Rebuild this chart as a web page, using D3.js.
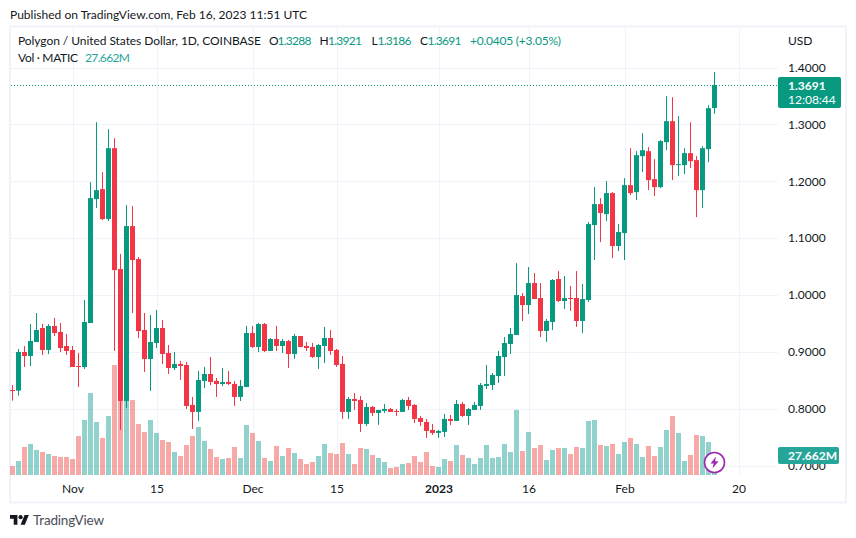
<!DOCTYPE html>
<html>
<head>
<meta charset="utf-8">
<script src="https://cdn.jsdelivr.net/npm/d3@7/dist/d3.min.js"></script>
<style>
    html, body { margin: 0; padding: 0; background: #fff; }
    svg { display: block; }
    text { font-family: "Lato", "Open Sans", sans-serif; fill: #131722; }
</style>
</head>
<body>
<div id="chart-area"></div>
<script>
const WIDTH = 856
const HEIGHT = 538
const PANE = { LEFT: 11, RIGHT: 778, TOP: 27, BOTTOM: 475 }
const UP = "#089981", DOWN = "#f23645"
const VOL_UP = "#26a69a", VOL_DOWN = "#ef5350"

// MATIC/USD daily: open, high, low, close, volume (millions), first day is Oct 22 2022
const rows = [
    [.8328,.8415,.8141,.8317,12.9],[.8317,.9049,.8229,.8996,20.1],[.8996,.9102,.8733,.8926,40.2],[.8926,.9488,.8750,.9190,44.5],
    [.9172,.9682,.9172,.9383,35.9],[.9418,.9488,.8944,.9032,33.0],[.9032,.9488,.8961,.9453,30.1],[.9453,.9594,.9278,.9330,27.2],
    [.9348,.9506,.8996,.9067,25.8],[.9102,.9313,.8944,.9014,25.8],[.9032,.9102,.8733,.8733,22.9],[.8750,.8979,.8381,.8739,55.9],
    [.8733,.9910,.8698,.9524,78.9],[.9506,1.1984,.9506,1.1703,117.6],[1.1685,1.3038,1.1527,1.1843,76.0],[1.1861,1.2160,1.1316,1.1334,53.1],
    [1.1334,1.2915,1.1299,1.2581,84.6],[1.2581,1.2757,.9014,1.0437,157.7],[1.0455,1.0719,.7626,.8135,130.0],[.8135,1.1580,.8012,1.1211,110.0],
    [1.1211,1.1562,.9682,1.0613,107.6],[1.0631,1.0666,.9242,.9365,73.1],[.9383,.9682,.8645,.8873,61.7],[.8873,.9647,.8311,.9172,78.9],
    [.9155,.9734,.9067,.9418,60.2],[.9418,.9559,.8786,.8961,50.2],[.8979,.9119,.8610,.8715,47.3],[.8715,.8996,.8680,.8786,33.0],
    [.8786,.8838,.8504,.8750,27.2],[.8768,.8821,.7995,.8047,43.0],[.8065,.8206,.7643,.7942,55.9],[.7942,.8662,.7784,.8504,68.8],
    [.8487,.8733,.8364,.8610,48.8],[.8610,.8909,.8416,.8469,37.3],[.8487,.8539,.8206,.8434,25.8],[.8434,.8715,.8399,.8469,22.9],
    [.8469,.8663,.8416,.8434,24.4],[.8434,.8487,.8047,.8206,40.2],[.8206,.8504,.8135,.8399,24.4],[.8381,.9453,.8381,.9330,71.7],
    [.9330,.9453,.9067,.9084,60.2],[.9084,.9506,.8996,.9488,48.8],[.9488,.9506,.8996,.9014,24.4],[.9014,.9242,.9014,.9225,20.1],
    [.9225,.9453,.9014,.9102,41.6],[.9102,.9225,.8979,.9190,27.2],[.9190,.9207,.8715,.8961,38.7],[.8961,.9313,.8873,.9278,31.5],
    [.9278,.9278,.9084,.9084,22.9],[.9102,.9172,.9014,.9067,15.8],[.9084,.9155,.8891,.8909,18.6],[.8909,.9137,.8698,.9119,27.2],
    [.9102,.9436,.8803,.9242,44.5],[.9242,.9383,.8944,.9014,31.5],[.9032,.9050,.8733,.8768,30.1],[.8786,.8926,.7819,.7942,45.9],
    [.7942,.8206,.7819,.8170,30.1],[.8170,.8276,.7977,.8135,15.8],[.8153,.8223,.7590,.7731,38.7],[.7731,.8100,.7696,.8030,37.3],
    [.8030,.8047,.7872,.7924,28.7],[.7924,.7977,.7714,.7977,24.4],[.7960,.8083,.7924,.7995,18.6],[.7994,.8012,.7942,.7942,10.0],
    [.7959,.7994,.7871,.7948,11.5],[.7942,.8170,.7942,.8153,15.8],[.8153,.8205,.7977,.8047,17.2],[.8065,.8082,.7748,.7819,27.2],
    [.7836,.7871,.7696,.7766,18.6],[.7766,.7819,.7485,.7608,33.0],[.7625,.7731,.7538,.7573,12.9],[.7573,.7625,.7485,.7608,11.5],
    [.7590,.7907,.7502,.7819,22.9],[.7819,.7889,.7713,.7784,20.1],[.7784,.8153,.7784,.8082,43.0],[.8082,.8117,.7854,.7871,28.7],
    [.7871,.8012,.7713,.7994,24.4],[.7977,.8117,.7977,.8065,15.8],[.8047,.8451,.7977,.8416,24.4],[.8399,.8768,.8346,.8434,43.0],
    [.8416,.8627,.8328,.8592,24.4],[.8574,.9014,.8451,.8926,25.8],[.8908,.9260,.8574,.9154,44.5],[.9137,.9418,.8961,.9313,33.0],
    [.9295,1.0560,.9295,.9998,93.2],[.9980,1.0033,.9541,.9822,34.4],[.9822,1.0490,.9664,1.0209,61.7],[1.0209,1.0385,.9928,.9928,38.7],
    [.9946,1.0209,.9260,.9366,43.0],[.9366,.9577,.9173,.9542,21.5],[.9524,1.0280,.9383,1.0262,35.9],[1.0280,1.0420,.9875,.9893,38.7],
    [.9893,1.0332,.9752,.9946,38.7],[.9946,1.0157,.9717,.9934,30.1],[.9946,1.0420,.9436,.9542,40.2],[.9542,1.0192,.9331,.9928,38.7],
    [.9911,1.1281,.9875,1.1246,77.4],[1.1229,1.1897,1.0614,1.1598,78.9],[1.1598,1.1703,1.0930,1.1440,43.0],[1.1422,1.2002,1.1299,1.1791,41.6],
    [1.1791,1.1809,1.0649,1.0860,44.5],[1.0860,1.1246,1.0772,1.1106,30.1],[1.1088,1.2054,1.0613,1.1931,47.3],[1.1931,1.2581,1.1756,1.1791,53.1],
    [1.1808,1.2529,1.1668,1.2458,44.5],[1.2441,1.2845,1.2160,1.2546,25.8],[1.2529,1.2599,1.1843,1.2019,41.6],[1.2037,1.2388,1.1738,1.1896,27.2],
    [1.1896,1.2722,1.1878,1.2705,40.2],[1.2687,1.3495,1.2546,1.3056,64.5],[1.3056,1.3478,1.2019,1.2283,84.6],[1.2283,1.3144,1.2089,1.2300,60.2],
    [1.2283,1.2581,1.2125,1.2494,20.1],[1.2494,1.3038,1.2230,1.2353,28.7],[1.2371,1.2441,1.1369,1.1843,57.4],[1.1843,1.2617,1.1527,1.2581,55.9],
    [1.2564,1.3337,1.2335,1.3284,47.3],[1.3288,1.3921,1.3186,1.3691,27.662]
]
const day0 = Date.UTC(2022, 9, 22)
const data = rows.map((r, i) => ({
    date: new Date(day0 + i * 864e5),
    open: r[0], high: r[1], low: r[2], close: r[3], vol: r[4]
}))
const last = data[data.length - 1]

const svg = d3.select("#chart-area").append("svg")
    .attr("width", WIDTH)
    .attr("height", HEIGHT)

// scales
const x = d3.scaleUtc()
    .domain([new Date(day0), new Date(Date.UTC(2023, 1, 20))])
    .range([12.5, 738.5])
const y = d3.scaleLinear().domain([0.7, 1.4]).range([465.5, 67.5])
const v = d3.scaleLinear().domain([0, 157.7]).range([PANE.BOTTOM, PANE.BOTTOM - 110])

// frame
svg.append("rect")
    .attr("x", 10).attr("y", 26.5)
    .attr("width", 836).attr("height", 476)
    .attr("fill", "none")
    .attr("stroke", "#f0f3fa")
    .attr("stroke-width", 2)

// grid
const priceTicks = [0.7, 0.8, 0.9, 1.0, 1.1, 1.2, 1.3, 1.4]
const timeTicks = [[2022,10,1],[2022,10,15],[2022,11,1],[2022,11,15],[2023,0,1],[2023,0,16],[2023,1,1],[2023,1,20]]
    .map(d => new Date(Date.UTC(d[0], d[1], d[2])))

const gridY = svg.append("g")
    .attr("transform", `translate(${PANE.RIGHT}, 0)`)
    .call(d3.axisLeft(y).tickValues(priceTicks).tickSize(PANE.RIGHT - PANE.LEFT).tickFormat(""))
const gridX = svg.append("g")
    .attr("transform", `translate(0, ${PANE.BOTTOM})`)
    .call(d3.axisBottom(x).tickValues(timeTicks).tickSize(-(PANE.BOTTOM - PANE.TOP)).tickFormat(""))
svg.selectAll(".domain").remove()
svg.selectAll(".tick line").attr("stroke", "#f0f3fa").attr("shape-rendering", "crispEdges")

// volume
svg.append("g").selectAll("rect")
    .data(data)
    .enter().append("rect")
    .attr("x", d => x(d.date) - 2.5)
    .attr("width", 5)
    .attr("y", d => v(d.vol))
    .attr("height", d => v(0) - v(d.vol))
    .attr("fill", d => d.close >= d.open ? VOL_UP : VOL_DOWN)
    .attr("fill-opacity", 0.5)

// candles
const candle = svg.append("g").selectAll("g")
    .data(data)
    .enter().append("g")
    .attr("fill", d => d.close >= d.open ? UP : DOWN)
    .attr("stroke", d => d.close >= d.open ? UP : DOWN)
candle.append("line")
    .attr("x1", d => x(d.date)).attr("x2", d => x(d.date))
    .attr("y1", d => y(d.high)).attr("y2", d => y(d.low))
    .attr("stroke-width", 1)
candle.append("rect")
    .attr("stroke", "none")
    .attr("x", d => x(d.date) - 2.5)
    .attr("width", 5)
    .attr("y", d => y(Math.max(d.open, d.close)))
    .attr("height", d => Math.max(1, Math.abs(y(d.open) - y(d.close))))

// last price line
svg.append("line")
    .attr("x1", PANE.LEFT).attr("x2", PANE.RIGHT)
    .attr("y1", Math.round(y(last.close)) + 0.5).attr("y2", Math.round(y(last.close)) + 0.5)
    .attr("stroke", UP)
    .attr("stroke-dasharray", "1,2")

// axes
const yAxis = svg.append("g")
    .attr("class", "y axis")
    .attr("transform", `translate(${PANE.RIGHT}, 0)`)
    .call(d3.axisRight(y).tickValues(priceTicks).tickSize(0).tickPadding(10).tickFormat(d3.format(".4f")))
const xLabel = d => {
    if (d.getUTCMonth() == 0 && d.getUTCDate() == 1) return "2023"
    if (d.getUTCDate() == 1) return d3.utcFormat("%b")(d)
    return d.getUTCDate()
}
const xAxis = svg.append("g")
    .attr("class", "x axis")
    .attr("transform", `translate(0, ${PANE.BOTTOM})`)
    .call(d3.axisBottom(x).tickValues(timeTicks).tickSize(0).tickPadding(9).tickFormat(xLabel))
yAxis.select(".domain").remove()
xAxis.select(".domain").remove()
svg.selectAll(".axis text")
    .style("font-family", "Lato, sans-serif")
    .style("font-size", "12px")
    .attr("fill", "#131722")
xAxis.selectAll("text").filter(d => xLabel(d) == "2023").style("font-weight", "700")

svg.append("text").attr("x", 788).attr("y", 45).text("USD").style("font-size", "12px")

// price and volume tags
svg.append("rect").attr("x", 778).attr("y", 77).attr("width", 63).attr("height", 31).attr("rx", 2).attr("fill", UP)
svg.append("text").attr("x", 788).attr("y", 90).text(last.close.toFixed(4))
    .style("font-size", "12px").style("font-weight", "700").style("fill", "#fff")
svg.append("text").attr("x", 788).attr("y", 104).text("12:08:44")
    .style("font-size", "12px").style("fill", "#fff")
svg.append("rect").attr("x", 778).attr("y", 447).attr("width", 61).attr("height", 17).attr("rx", 2).attr("fill", VOL_UP)
svg.append("text").attr("x", 788).attr("y", 460).text(last.vol.toFixed(3) + "M")
    .style("font-size", "12px").style("font-weight", "700").style("fill", "#fff")

// legend, header
const label = (px, py, str, color, len) => {
    const t = svg.append("text").attr("x", px).attr("y", py).text(str)
        .style("font-size", "12px").style("fill", color)
    if (len) t.attr("textLength", len).attr("lengthAdjust", "spacing")
    return t
}
label(10, 19, "Published on TradingView.com, Feb 16, 2023 11:51 UTC", "#131722", 297)
label(18, 45, "Polygon / United States Dollar, 1D, COINBASE", "#131722", 243)
const ohlc = [["O", 269, 8.5, last.open], ["H", 319.5, 8.5, last.high], ["L", 371.5, 6, last.low], ["C", 420, 7.5, last.close]]
ohlc.forEach(d => {
    label(d[1], 45, d[0], "#131722")
    label(d[1] + d[2], 45, d[3].toFixed(4), UP, 34)
})
label(470, 45, "+0.0405 (+3.05%)", UP, 91)
label(18, 62, "Vol · MATIC", "#131722", 60)
label(85, 62, last.vol.toFixed(3) + "M", VOL_UP, 45)

// lightning badge
const badge = svg.append("g").attr("transform", "translate(714.5, 462.5)")
badge.append("circle").attr("r", 10).attr("fill", "#fff").attr("stroke", "#9c27b0").attr("stroke-width", 1.6)
badge.append("path").attr("d", "M1.5,-6 L-4,1 H-0.8 L-2,6 L4,-1.2 H0.6 Z").attr("fill", "#9c27b0")

// footer logo
const logo = svg.append("g").attr("transform", "translate(10, 513) scale(0.53)").attr("fill", "#131722")
logo.append("path").attr("d", "M14 22H7V11H0V4h14v18zM28 22h-8l7.5-18h8L28 22z")
logo.append("circle").attr("cx", 20).attr("cy", 8).attr("r", 4)
svg.append("text").attr("x", 33).attr("y", 525).text("TradingView")
    .attr("textLength", 71)
    .style("font-size", "13.5px").style("fill", "#4a4e58")
</script>
</body>
</html>
